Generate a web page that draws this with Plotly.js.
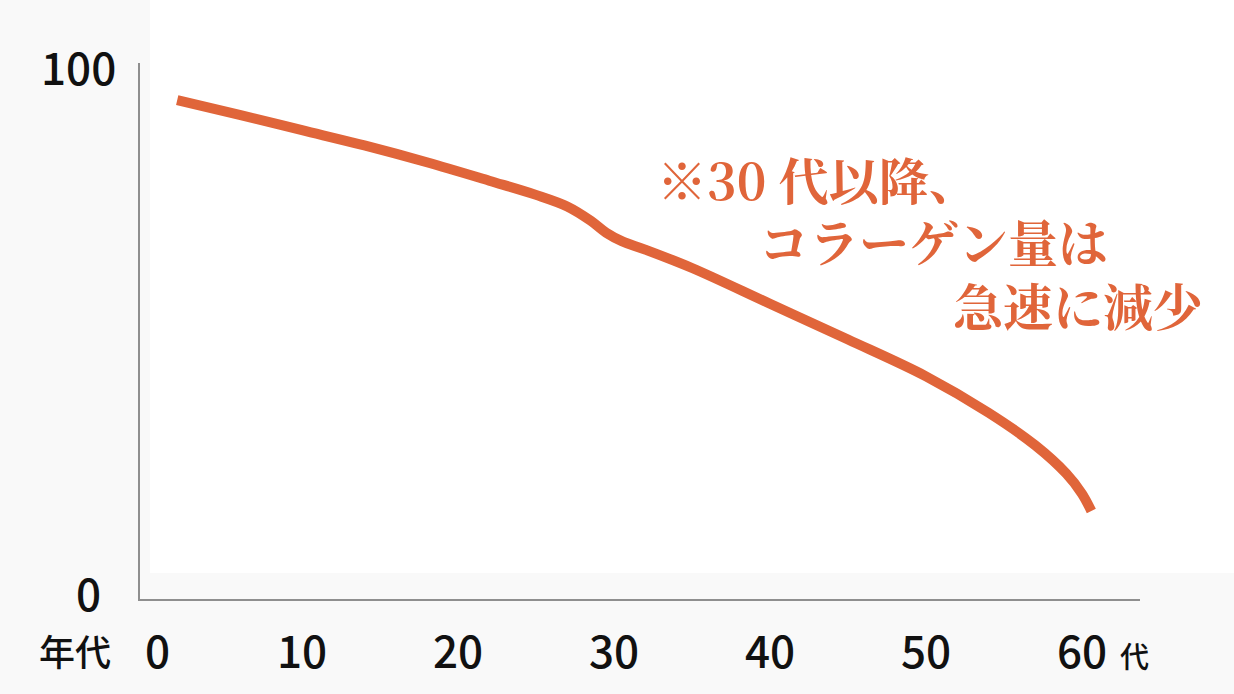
<!DOCTYPE html>
<html>
<head>
<meta charset="utf-8">
<script src="https://cdn.plot.ly/plotly-3.0.1.min.js"></script>
<style>
html,body{margin:0;padding:0;background:#f9f9f9;}
#chart{width:1234px;height:694px;}
</style>
</head>
<body>
<div id="chart"></div>
<script>
// Data
const ageYears = [2, 6, 10, 14, 18, 22, 25, 27, 28.5, 29.5, 30.5, 32, 35, 40, 45, 50, 54, 57, 59, 60, 60.6];
const collagenAmount = [93.5, 90.7, 87.8, 84.9, 81.7, 78.2, 75.5, 73.3, 70.6, 68.3, 66.7, 65.1, 61.6, 54.8, 48.0, 41.0, 34.1, 27.9, 22.5, 18.7, 15.4];
const xTickValues = [0, 10, 20, 30, 40, 50, 60];
const xTickLabels = ['0', '10', '20', '30', '40', '50', '60'];
const yTickValues = [0, 100];
const yTickLabels = ['0', '100'];
const xAxisUnitLeft = '年代';
const xAxisUnitRight = '代';
const noteLines = ['※30 代以降、', 'コラーゲン量は', '急速に減少'];

const ORANGE = '#e0653a';
const LABEL_FONT = {family: '"Noto Sans CJK JP", "Noto Sans", sans-serif', size: 44, color: '#111111', weight: 500};
const NOTE_FONT = {family: '"Noto Serif CJK JP", "Noto Sans CJK JP", serif', size: 50, color: ORANGE, weight: 700};

const annotations = [];
// x tick labels
xTickValues.forEach((v, i) => {
  annotations.push({
    x: v, y: 0, xref: 'x', yref: 'paper', text: xTickLabels[i],
    showarrow: false, xanchor: 'center', yanchor: 'middle',
    yshift: -50, xshift: (v === 0 ? 11 : 0), font: LABEL_FONT
  });
});
// y tick labels
yTickValues.forEach((v, i) => {
  annotations.push({
    x: 0, y: v, xref: 'paper', yref: 'y', text: yTickLabels[i],
    showarrow: false, xanchor: 'right', yanchor: 'middle',
    xshift: (v === 0 ? -37 : -22), font: LABEL_FONT
  });
});
// unit labels
annotations.push({
  x: 0, y: 0, xref: 'paper', yref: 'paper', text: xAxisUnitLeft,
  showarrow: false, xanchor: 'center', yanchor: 'middle',
  xshift: -65, yshift: -51,
  font: {family: '"Noto Sans CJK JP", sans-serif', size: 36, color: '#111111', weight: 500}
});
annotations.push({
  x: 60, y: 0, xref: 'x', yref: 'paper', text: xAxisUnitRight,
  showarrow: false, xanchor: 'center', yanchor: 'middle',
  xshift: 53, yshift: -56,
  font: {family: '"Noto Sans CJK JP", sans-serif', size: 29, color: '#111111', weight: 500}
});
// note text
const notePos = [
  {x: (655 - 140) / 1000, y: (599 - 178) / 536},
  {x: (757 - 140) / 1000, y: (599 - 240) / 536},
  {x: (951 - 140) / 1000, y: (599 - 304) / 536}
];
noteLines.forEach((t, i) => {
  annotations.push({
    x: notePos[i].x, y: notePos[i].y, xref: 'paper', yref: 'paper', text: t,
    showarrow: false, xanchor: 'left', yanchor: 'middle', font: NOTE_FONT
  });
});

const trace = {
  x: ageYears, y: collagenAmount, type: 'scatter', mode: 'lines',
  line: {color: ORANGE, width: 10, shape: 'spline', smoothing: 1},
  hoverinfo: 'skip'
};

const layout = {
  width: 1234, height: 694,
  margin: {l: 140, r: 94, t: 63, b: 95, pad: 0},
  paper_bgcolor: '#f9f9f9',
  plot_bgcolor: 'rgba(0,0,0,0)',
  showlegend: false,
  xaxis: {
    range: [-0.385, 63.72], showgrid: false, zeroline: false,
    showline: true, linecolor: '#8f8f8f', linewidth: 2,
    showticklabels: false, ticks: '', fixedrange: true
  },
  yaxis: {
    range: [-1.33, 100.57], showgrid: false, zeroline: false,
    showline: true, linecolor: '#8f8f8f', linewidth: 2,
    showticklabels: false, ticks: '', fixedrange: true
  },
  shapes: [{
    type: 'rect', xref: 'paper', yref: 'paper',
    x0: 0.01, x1: 1.1, y0: (599 - 573) / 536, y1: 1.2,
    fillcolor: '#ffffff', line: {width: 0}, layer: 'below'
  }],
  annotations: annotations
};

Plotly.newPlot('chart', [trace], layout, {displayModeBar: false, staticPlot: true});
</script>
</body>
</html>
